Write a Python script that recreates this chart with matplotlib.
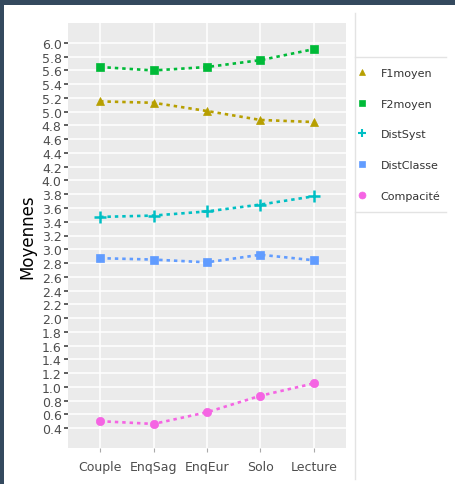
import matplotlib
matplotlib.use('Agg')
import matplotlib.pyplot as plt
from matplotlib.patches import Rectangle
from matplotlib.lines import Line2D

plt.rcParams['font.family'] = ['DejaVu Sans']

categories = ['Couple', 'EnqSag', 'EnqEur', 'Solo', 'Lecture']
f1moyen = [5.15, 5.13, 5.01, 4.88, 4.85]
f2moyen = [5.65, 5.60, 5.65, 5.75, 5.91]
dist_syst = [3.47, 3.49, 3.55, 3.65, 3.77]
dist_classe = [2.87, 2.85, 2.81, 2.92, 2.84]
compacite = [0.50, 0.46, 0.63, 0.87, 1.05]
y_ticks = [round(0.4 + 0.2 * i, 1) for i in range(29)]

series = [
    ('F1moyen', f1moyen, '#B79F00', '^'),
    ('F2moyen', f2moyen, '#00BA38', 's'),
    ('DistSyst', dist_syst, '#00BFC4', '+'),
    ('DistClasse', dist_classe, '#619CFF', 's'),
    ('Compacité', compacite, '#F564E3', 'o'),
]

W, H = 455, 485
fig = plt.figure(figsize=(W / 100, H / 100), dpi=100, facecolor='#34495e')
# white content area inside the dark frame
fig.patches.append(Rectangle((4 / W, 0), 1, 1 - 6 / H, transform=fig.transFigure,
                             facecolor='white', edgecolor='none', zorder=-5))

ax = fig.add_axes([68 / W, 1 - 449 / H, (346 - 68) / W, (449 - 24) / H])
ax.set_facecolor('#ebebeb')
for s in ax.spines.values():
    s.set_visible(False)

x = list(range(1, len(categories) + 1))
handles = []
for name, vals, col, mk in series:
    ms = 8 if mk == '+' else 6
    ax.plot(x, vals, color=col, linestyle=(0, (1.3, 1.5)), linewidth=1.9, zorder=3)
    ax.plot(x, vals, color=col, linestyle='none', marker=mk, markersize=ms,
            markeredgewidth=1.8 if mk == '+' else 0.5, zorder=4)
    handles.append(Line2D([], [], color=col, linestyle='none', marker=mk,
                          markersize=6 if mk == '+' else 5,
                          markeredgewidth=1.5 if mk == '+' else 0.5))

ax.set_xlim(0.4, 5.6)
ax.set_ylim(0.11, 6.29)
ax.set_xticks(x)
ax.set_xticklabels(categories)
ax.set_yticks(y_ticks)
ax.set_yticklabels([f'{v:.1f}' for v in y_ticks])
ax.grid(True, color='white', linewidth=1.1)
ax.set_axisbelow(True)
ax.tick_params(axis='y', colors='#333333', labelcolor='#4d4d4d',
               labelsize=9, length=3, width=1.1, pad=1.5)
ax.tick_params(axis='x', colors='#aaaaaa', labelcolor='#4d4d4d',
               labelsize=9, length=3, width=0.8, pad=6)
ax.set_ylabel('Moyennes', fontsize=12, color='black', labelpad=4)

# legend area
fig.legend(handles, [s[0] for s in series], loc='upper left',
           bbox_to_anchor=(345 / W, 1 - 59 / H), frameon=False,
           fontsize=8, labelspacing=1.85, handletextpad=1.1,
           handlelength=1.2, labelcolor='#333333')
line_kw = dict(transform=fig.transFigure, color='#e3e3e3', linewidth=1)
fig.add_artist(Line2D([355 / W, 355 / W], [1 - 14 / H, 1 - 480 / H], **line_kw))
fig.add_artist(Line2D([355 / W, 446 / W], [1 - 58 / H, 1 - 58 / H], **line_kw))
fig.add_artist(Line2D([355 / W, 446 / W], [1 - 213 / H, 1 - 213 / H], **line_kw))

fig.savefig('out.png', dpi=100, facecolor=fig.get_facecolor())
